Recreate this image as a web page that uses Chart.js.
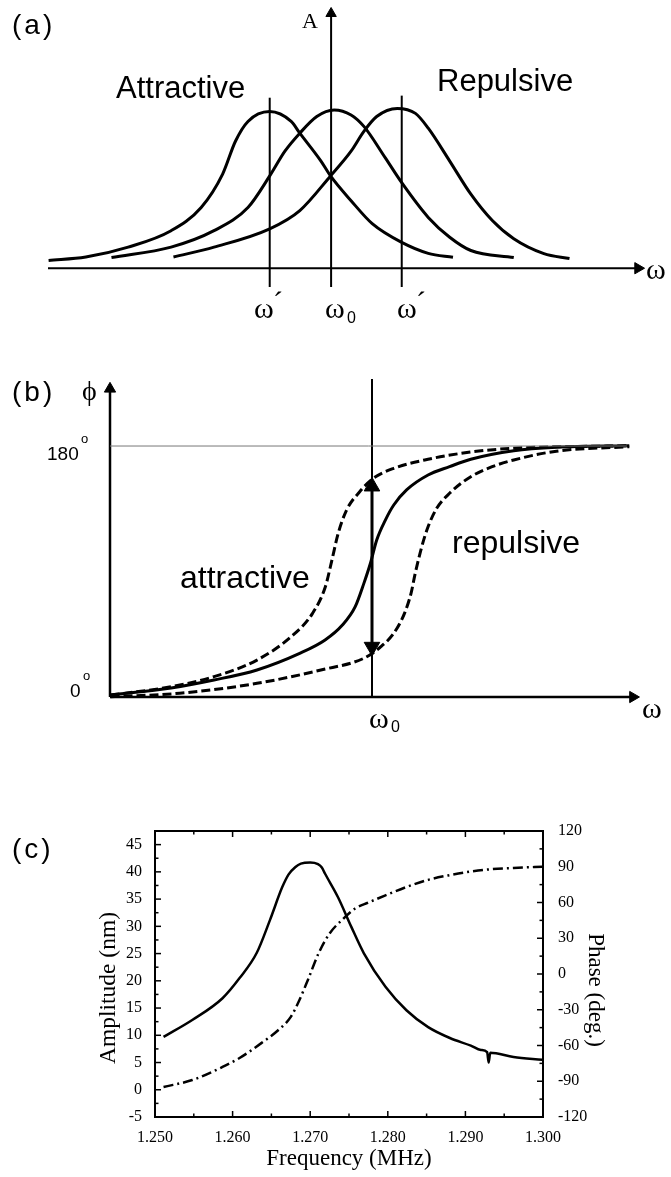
<!DOCTYPE html>
<html><head><meta charset="utf-8">
<script src="https://cdn.jsdelivr.net/npm/chart.js@4.4.1/dist/chart.umd.min.js"></script>
<style>
html,body{margin:0;padding:0;background:#fff;}
body{width:671px;height:1177px;position:relative;overflow:hidden;}
canvas{position:absolute;left:0;}
</style></head><body>
<canvas id="ca" width="671" height="330" style="top:0"></canvas>
<canvas id="cb" width="671" height="420" style="top:330px"></canvas>
<canvas id="cc" width="671" height="427" style="top:750px"></canvas>
<script>
// ---------- Panel (a): amplitude vs frequency (schematic) ----------
const omegaLeft  = [-9.48,-8.23,-6.81,-5.37,-4.36,-3.64,-3.21,-2.79,-2.06,-1.34,-1.05,-0.34,-0.02,0.67,1.38,2.37,3.26,4.09];
const ampLeft    = [0.30,0.43,0.81,1.44,2.33,3.61,4.87,5.63,6.01,5.63,5.18,4.11,3.54,2.59,1.71,0.99,0.57,0.42];
const omegaMid   = [-7.37,-5.37,-3.93,-2.79,-2.06,-1.55,-1.05,-0.48,0.10,0.67,1.10,1.82,2.37,3.26,3.98,4.69,6.13];
const ampMid     = [0.41,0.81,1.44,2.33,3.54,4.49,5.18,5.82,6.07,5.88,5.44,4.23,3.28,1.95,1.19,0.68,0.41];
const omegaRight = [-5.29,-3.93,-2.06,-1.05,-0.02,0.67,1.10,1.53,2.22,2.83,3.26,3.98,4.69,5.41,6.13,7.14,8.00];
const ampRight   = [0.43,0.81,1.51,2.21,3.54,4.49,5.25,5.82,6.13,5.94,5.37,4.11,2.84,1.83,1.13,0.56,0.37];
const omegaShiftA = [-2.06, 2.37];     // omega' markers
const markerTopA  = [6.54, 6.62];

// ---------- Panel (b): phase vs frequency (schematic) ----------
const omegaB      = [-9.98,-7.67,-6.03,-4.39,-2.76,-1.79,-1.13,-0.64,-0.31,-0.06,0.18,0.51,0.83,1.32,2.14,2.96,3.77,5.41,7.04,9.82];
const phaseFree   = [1.4,6.5,12.2,19.4,31.3,40.9,51.6,64.8,81.5,95.9,112.6,126.9,137.7,148.5,159.2,165.2,170.5,176.6,179.1,180.2];
const omegaAttr   = [-9.98,-7.67,-6.03,-4.39,-3.09,-2.27,-1.78,-1.53,-1.29,-0.97,-0.47,0.05,0.83,2.14,3.77,5.41,9.82];
const phaseAttr   = [1.4,7.4,14.6,26.5,43.2,60.0,79.1,98.2,117.4,134.1,147.2,156.8,164.0,170.5,175.7,178.4,180.2];
const omegaRep    = [-9.98,-7.34,-4.39,-1.95,-0.31,0.34,0.83,1.24,1.49,1.65,1.90,2.14,2.47,2.96,3.77,4.59,5.41,7.04,9.82];
const phaseRep    = [0.2,2.7,9.8,19.4,27.8,36.1,45.7,60.0,74.4,88.7,107.8,122.1,135.3,146.1,158.0,165.2,170.0,176.3,179.5];
const shiftArrowB = [151, 36];   // double arrow ends (deg)

// ---------- Panel (c): measured amplitude & phase ----------
const freqAmp   = [1.2511,1.2548,1.2587,1.2609,1.2631,1.2648,1.2664,1.2672,1.2681,1.2688,1.2700,1.2710,1.2715,1.2719,1.2736,1.2753,1.2769,1.2797,1.2824,1.2852,1.2880,1.2907,1.2920,1.2928,1.2930,1.2932,1.2962,1.2999];
const amplitude = [9.7,12.8,16.8,20.5,25.1,31.1,37.2,39.5,40.9,41.5,41.7,41.4,40.8,39.7,35.3,29.9,25.1,18.9,14.6,11.5,9.5,8.1,7.3,6.9,5.0,6.8,6.0,5.5];
const freqPhase = [1.2511,1.2548,1.2587,1.2609,1.2637,1.2659,1.2675,1.2686,1.2697,1.2711,1.2725,1.2742,1.2758,1.2775,1.2797,1.2824,1.2852,1.2880,1.2907,1.2934,1.2962,1.2999];
const phaseDeg  = [-94.8,-89,-78,-70.5,-58,-47,-36,-22,-5,17.6,34,46,55,60,66,73,79,83,86,88,89,90];
const freqTicks = [1.25,1.26,1.27,1.28,1.29,1.30];
const freqTickLabels = ['1.250','1.260','1.270','1.280','1.290','1.300'];
const freqMinor = [1.255,1.265,1.275,1.285,1.295];
const ampTicks  = [-5,0,5,10,15,20,25,30,35,40,45];
const ampMinor  = [-2.5,2.5,7.5,12.5,17.5,22.5,27.5,32.5,37.5,42.5];
const phaseTicks = [-120,-90,-60,-30,0,30,60,90,120];
const phaseMinor = [-105,-75,-45,-15,15,45,75,105];

const pts = (xs, ys) => xs.map((x, i) => ({x, y: ys[i]}));
const SANS = "'Liberation Sans', Arial, sans-serif";
const SERIF = "'Liberation Serif', 'Times New Roman', serif";

function textPlugin(items){
  return {id:'texts', afterDraw(chart){
    const ctx = chart.ctx;
    items.forEach(t => {
      ctx.save();
      ctx.font = t.font; ctx.fillStyle = t.color || '#000';
      ctx.textAlign = t.align || 'left'; ctx.textBaseline = t.baseline || 'alphabetic';
      if (t.spacing && 'letterSpacing' in ctx) ctx.letterSpacing = t.spacing;
      ctx.translate(t.x, t.y);
      if (t.rot) ctx.rotate(t.rot * Math.PI / 180);
      ctx.fillText(t.text, 0, 0);
      ctx.restore();
    });
  }};
}
const curve = (data, w, dash) => ({data, borderColor:'#000', borderWidth:w, borderDash:dash||[], pointRadius:0,
  cubicInterpolationMode:'monotone', fill:false, clip:false});
const straight = (data, w, color) => ({data, borderColor:color||'#000', borderWidth:w, pointRadius:0, tension:0, fill:false, clip:false});
const arrow = (data, w, radii, rots) => ({data, borderColor:'#000', borderWidth:w, tension:0, fill:false, clip:false,
  pointStyle:'triangle', pointRadius:radii, pointRotation:rots, pointBackgroundColor:'#000', pointBorderColor:'#000', pointBorderWidth:1});
const baseOpts = (pad, xr, yr) => ({responsive:false, animation:false, events:[],
  layout:{padding:pad}, plugins:{legend:{display:false}, tooltip:{enabled:false}},
  scales:{x:{type:'linear', min:xr[0], max:xr[1], display:false}, y:{type:'linear', min:yr[0], max:yr[1], display:false}}});

// ----- chart (a)
new Chart(document.getElementById('ca'), {
  type:'line',
  data:{datasets:[
    arrow([{x:-9.5,y:0},{x:10.3,y:0}], 2, [0,6.5], [0,90]),
    arrow([{x:0,y:-0.72},{x:0,y:9.77}], 2, [0,6], [0,0]),
    straight([{x:omegaShiftA[0],y:-0.72},{x:omegaShiftA[0],y:markerTopA[0]}], 2),
    straight([{x:omegaShiftA[1],y:-0.72},{x:omegaShiftA[1],y:markerTopA[1]}], 2),
    curve(pts(omegaLeft, ampLeft), 3),
    curve(pts(omegaMid, ampMid), 3),
    curve(pts(omegaRight, ampRight), 3)
  ]},
  options: baseOpts({left:48, right:27, top:5, bottom:35.7}, [-9.5,10.5], [-1,10]),
  plugins:[textPlugin([
    {text:'(a)', x:12, y:34, font:'28px '+SANS, spacing:'3px'},
    {text:'A', x:302, y:28, font:'22px '+SERIF},
    {text:'Attractive', x:116, y:98, font:'31px '+SANS},
    {text:'Repulsive', x:437, y:91, font:'31px '+SANS},
    {text:'ω', x:646, y:279, font:'30px '+SERIF},
    {text:'ω', x:254, y:318, font:'30px '+SERIF},
    {text:'´', x:273, y:312, font:'30px '+SERIF},
    {text:'ω', x:325, y:318, font:'30px '+SERIF},
    {text:'0', x:347, y:323, font:'16px '+SANS},
    {text:'ω', x:397, y:318, font:'30px '+SERIF},
    {text:'´', x:416, y:312, font:'30px '+SERIF}
  ])]
});

// ----- chart (b)
new Chart(document.getElementById('cb'), {
  type:'line',
  data:{datasets:[
    straight([{x:-10,y:180},{x:9.73,y:180}], 1, '#777'),
    arrow([{x:-10,y:0},{x:9.96,y:0}], 2.5, [0,6.5], [0,90]),
    arrow([{x:-10,y:0},{x:-10,y:221}], 2.5, [0,6.5], [0,0]),
    straight([{x:0,y:0},{x:0,y:228}], 2),
    curve(pts(omegaAttr, phaseAttr), 3, [9,4]),
    curve(pts(omegaRep, phaseRep), 3, [9,4]),
    curve(pts(omegaB, phaseFree), 3),
    arrow([{x:0,y:shiftArrowB[0]},{x:0,y:shiftArrowB[1]}], 3, [9,9], [0,180])
  ]},
  options: baseOpts({left:110, right:23.9, top:46.3, bottom:25.1}, [-10,10.5], [-20,230]),
  plugins:[textPlugin([
    {text:'(b)', x:12, y:71, font:'28px '+SANS, spacing:'3px'},
    {text:'ϕ', x:82, y:70, font:'28px '+SERIF},
    {text:'180', x:47, y:130, font:'19px '+SANS},
    {text:'o', x:81, y:113, font:'13px '+SANS},
    {text:'0', x:70, y:367, font:'19px '+SANS},
    {text:'o', x:83, y:350, font:'13px '+SANS},
    {text:'attractive', x:180, y:258, font:'32px '+SANS},
    {text:'repulsive', x:452, y:223, font:'32px '+SANS},
    {text:'ω', x:642, y:388, font:'30px '+SERIF},
    {text:'ω', x:369, y:398, font:'30px '+SERIF},
    {text:'0', x:391, y:402, font:'16px '+SANS}
  ])]
});

// ----- chart (c)
const tickFont = {family:'Liberation Serif', size:16};
const frame = {display:true, color:'#000', width:2};
const inTicks = {id:'inticks', afterDraw(chart){
  const {ctx, chartArea:a, scales} = chart;
  ctx.save(); ctx.strokeStyle = '#000'; ctx.lineWidth = 1.5;
  const seg = (x1,y1,x2,y2) => {ctx.beginPath(); ctx.moveTo(x1,y1); ctx.lineTo(x2,y2); ctx.stroke();};
  [[freqTicks,6],[freqMinor,3.5]].forEach(([vals,len]) => vals.forEach(v => {
    const p = scales.x.getPixelForValue(v); seg(p,a.bottom,p,a.bottom-len); seg(p,a.top,p,a.top+len);}));
  [[ampTicks,6],[ampMinor,3.5]].forEach(([vals,len]) => vals.forEach(v => {
    const p = scales.y.getPixelForValue(v); seg(a.left,p,a.left+len,p);}));
  [[phaseTicks,6],[phaseMinor,3.5]].forEach(([vals,len]) => vals.forEach(v => {
    const p = scales.y1.getPixelForValue(v); seg(a.right,p,a.right-len,p);}));
  ctx.restore();
}};
new Chart(document.getElementById('cc'), {
  type:'line',
  data:{datasets:[
    {data:pts(freqAmp, amplitude), yAxisID:'y', borderColor:'#000', borderWidth:2.5, pointRadius:0, cubicInterpolationMode:'monotone', fill:false},
    {data:pts(freqPhase, phaseDeg), yAxisID:'y1', borderColor:'#000', borderWidth:2.5, borderDash:[10,4,2,4], pointRadius:0, cubicInterpolationMode:'monotone', fill:false}
  ]},
  options:{responsive:false, animation:false, events:[],
    layout:{padding:{left:105, right:68, top:81, bottom:20}},
    plugins:{legend:{display:false}, tooltip:{enabled:false}},
    scales:{
      x:{type:'linear', position:'bottom', min:1.25, max:1.30, afterFit:s=>{s.height=40;},
        afterBuildTicks:s=>{s.ticks = freqTicks.map(v=>({value:v}));},
        grid:{display:false}, border:frame,
        ticks:{padding:3, color:'#000', font:tickFont, autoSkip:false, maxRotation:0, callback:(v,i)=>freqTickLabels[i]}},
      x2:{type:'linear', position:'top', min:1.25, max:1.30, afterFit:s=>{s.height=0;},
        grid:{display:false}, border:frame, ticks:{display:false}},
      y:{type:'linear', position:'left', min:-5, max:47.5, afterFit:s=>{s.width=50;},
        afterBuildTicks:s=>{s.ticks = ampTicks.map(v=>({value:v}));},
        grid:{display:false}, border:frame,
        ticks:{padding:5, color:'#000', font:tickFont, callback:v=>String(v)}},
      y1:{type:'linear', position:'right', min:-120, max:120, afterFit:s=>{s.width=60;},
        afterBuildTicks:s=>{s.ticks = phaseTicks.map(v=>({value:v}));},
        grid:{display:false}, border:frame,
        ticks:{padding:7, color:'#000', font:tickFont, callback:v=>String(v)}}
    }},
  plugins:[inTicks, textPlugin([
    {text:'(c)', x:12, y:108, font:'28px '+SANS, spacing:'3px'},
    {text:'Amplitude (nm)', x:109, y:238, font:'23.5px '+SERIF, align:'center', baseline:'middle', rot:-90},
    {text:'Phase (deg.)', x:595, y:240, font:'23px '+SERIF, align:'center', baseline:'middle', rot:90},
    {text:'Frequency (MHz)', x:349, y:415, font:'23px '+SERIF, align:'center'}
  ])]
});
</script>
</body></html>
